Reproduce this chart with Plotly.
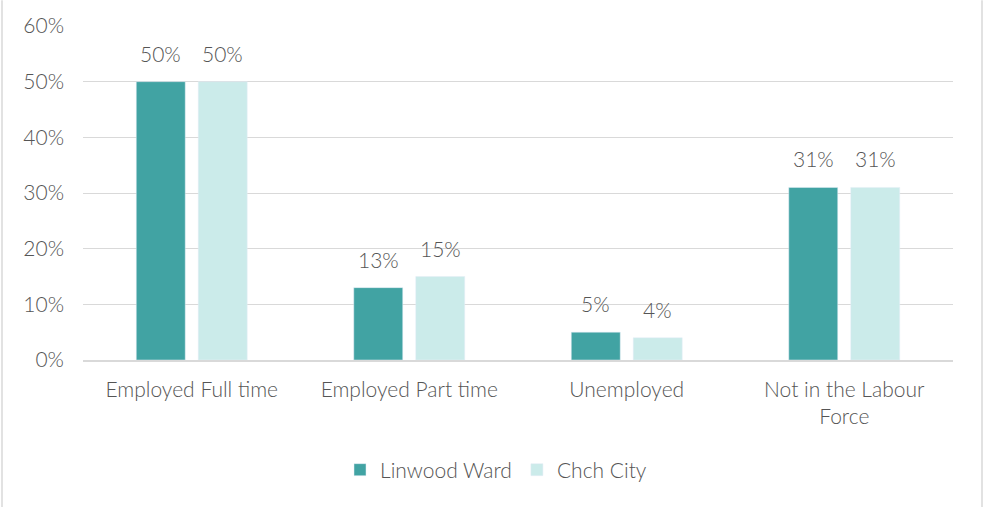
import plotly.graph_objects as go

categories = ["Employed Full time", "Employed Part time", "Unemployed", "Not in the Labour<br>Force"]
linwood = [50, 13, 5, 31]
chch = [50, 15, 4, 31]
series_names = ["Linwood Ward", "Chch City"]
tick_vals = [0, 10, 20, 30, 40, 50, 60]
tick_text = ["0%", "10%", "20%", "30%", "40%", "50%", "60%"]

font_family = "Lato, 'Open Sans', sans-serif"
txt = "#555555"
fs = 21

W, H = 984, 507
ml, mr, mt, mb = 83, 31, 23, 147
pw, ph = W - ml - mr, H - mt - mb
bargap = 0.43
cat_w = pw / len(categories)
half = cat_w * (1 - bargap) / 4  # offset of each bar centre from category centre

fig = go.Figure()
annotations = []
for i, (name, vals, color) in enumerate([(series_names[0], linwood, "#41A3A3"), (series_names[1], chch, "#CBEBEA")]):
    fig.add_trace(go.Bar(
        x=categories, y=vals, name=name, marker_color=color,
    ))
    for c, v in zip(categories, vals):
        annotations.append(dict(
            x=c, y=v, xref="x", yref="y", text=f"{v}%", showarrow=False,
            xshift=(-half if i == 0 else half), yshift=14, yanchor="bottom",
            font=dict(size=fs, color=txt, family=font_family, weight=300),
        ))

border_y0 = (mt + ph - 510) / ph
border_y1 = (mt + ph + 3) / ph
shapes = [dict(type="line", xref="paper", yref="paper",
               x0=(px - ml) / pw, x1=(px - ml) / pw, y0=border_y0, y1=border_y1,
               line=dict(color="#D9D9D9", width=1.5), layer="below")
          for px in (2, 982)]

fig.update_layout(
    width=W, height=H,
    margin=dict(l=ml, r=mr, t=mt, b=mb),
    paper_bgcolor="white", plot_bgcolor="white",
    barmode="group", bargap=bargap, bargroupgap=0.21,
    font=dict(family=font_family, color=txt, size=fs, weight=300),
    showlegend=True,
    legend=dict(orientation="h", x=0.5 - 22 / pw, xanchor="center", y=(mt + ph - 471) / ph, yanchor="middle",
                font=dict(size=fs, color=txt, weight=300), itemwidth=30, traceorder="normal"),
    xaxis=dict(showline=True, linecolor="#D9D9D9", linewidth=1.5, ticks="",
               tickfont=dict(size=fs, color=txt, weight=300), ticklabelstandoff=10),
    yaxis=dict(range=[0, 60], tickvals=tick_vals, ticktext=tick_text, showgrid=True,
               gridcolor="#D9D9D9", gridwidth=1, zeroline=False, showline=False,
               tickfont=dict(size=fs, color=txt, weight=300), ticklabelstandoff=18),
    annotations=annotations,
    shapes=shapes,
)

fig.write_html("out.html", config={"displayModeBar": False},
               post_script="document.body.style.margin='0';document.body.style.overflow='hidden';")
